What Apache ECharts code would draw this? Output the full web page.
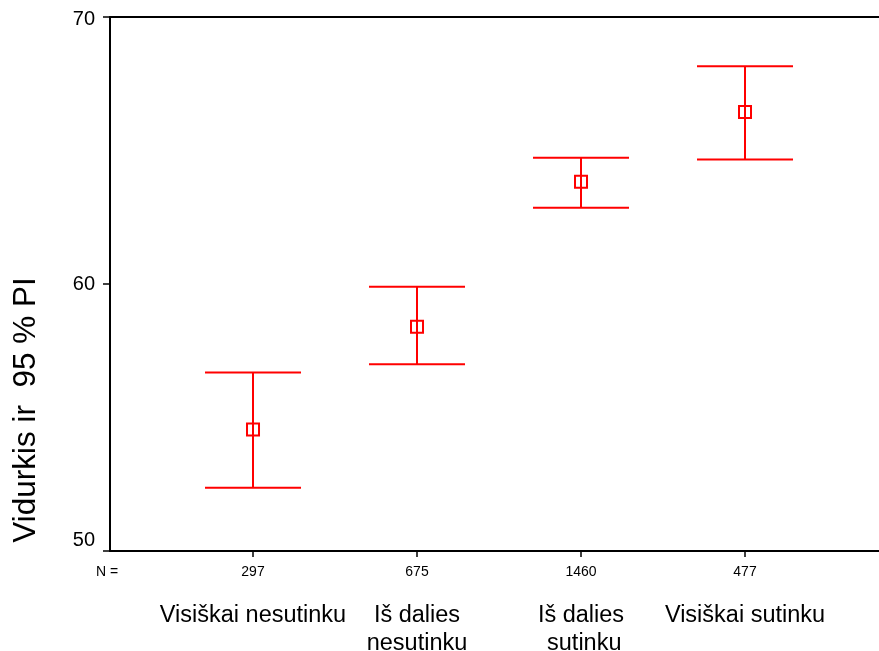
<!DOCTYPE html>
<html>
<head>
<meta charset="utf-8">
<script src="https://cdn.jsdelivr.net/npm/echarts@6/dist/echarts.min.js"></script>
<style>html,body{margin:0;padding:0;background:#fff}#c{width:879px;height:651px}</style>
</head>
<body>
<div id="c"></div>
<script>
var categories = ['Visiškai nesutinku', 'Iš dalies\nnesutinku', 'Iš dalies\n sutinku', 'Visiškai sutinku'];
var counts = ['297', '675', '1460', '477'];
var means = [54.55, 58.40, 63.83, 66.44];
var lower = [52.37, 56.99, 62.86, 64.66];
var upper = [56.69, 59.90, 64.73, 68.16];
var yTicks = [50, 60, 70];

var positions = [1, 2, 3, 4];
var data = positions.map(function (p, i) { return [p, lower[i], upper[i], means[i]]; });
var FONT = 'Liberation Sans, Arial, sans-serif';

var chart = echarts.init(document.getElementById('c'), null, { renderer: 'canvas' });
chart.setOption({
  animation: false,
  backgroundColor: '#fff',
  grid: { left: 110, right: 0, top: 17, bottom: 100, containLabel: false, outerBoundsMode: 'none' },
  xAxis: [
    {
      type: 'value', min: 0.128, max: 4.817, position: 'bottom',
      splitLine: { show: false },
      axisLine: { show: true, lineStyle: { color: '#000', width: 2 } },
      axisTick: { show: true, customValues: positions, length: 6, lineStyle: { color: '#000', width: 1.5 } },
      axisLabel: {
        show: true, customValues: positions, margin: 14,
        fontFamily: FONT, fontSize: 14, color: '#000',
        formatter: function (v) { return counts[Math.round(v) - 1]; }
      }
    },
    {
      type: 'value', min: 0.128, max: 4.817, position: 'bottom', offset: 0,
      splitLine: { show: false },
      axisLine: { show: false },
      axisTick: { show: false },
      axisLabel: {
        show: true, customValues: positions, margin: 51,
        fontFamily: FONT, fontSize: 23.5, color: '#000', lineHeight: 28,
        formatter: function (v) { return categories[Math.round(v) - 1]; }
      }
    },
    {
      type: 'value', min: 0.128, max: 4.817, position: 'top',
      splitLine: { show: false },
      axisLine: { show: true, lineStyle: { color: '#000', width: 2 } },
      axisTick: { show: false },
      axisLabel: { show: false }
    }
  ],
  yAxis: {
    type: 'value', min: yTicks[0], max: yTicks[yTicks.length - 1], interval: 10,
    splitLine: { show: false },
    axisLine: { show: true, lineStyle: { color: '#000', width: 2 } },
    axisTick: { show: true, length: 7, lineStyle: { color: '#000', width: 1.5 } },
    axisLabel: {
      margin: 15, fontFamily: FONT, fontSize: 20, color: '#000',
      formatter: function (v) {
        if (v === yTicks[0]) return '{lo|' + v + '}';
        if (v === yTicks[yTicks.length - 1]) return '{hi|' + v + '}';
        return '' + v;
      },
      rich: {
        lo: { fontFamily: FONT, fontSize: 20, color: '#000', padding: [0, 0, 22, 0] },
        hi: { fontFamily: FONT, fontSize: 20, color: '#000', padding: [4, 0, 0, 0] }
      }
    }
  },
  graphic: [
    { type: 'text', left: 96, top: 565, style: { text: 'N =', fontFamily: FONT, fontSize: 14, fill: '#000' } },
    { type: 'text', x: 26, y: 410, rotation: Math.PI / 2,
      style: { text: 'Vidurkis ir  95 % PI', fontFamily: FONT, fontSize: 31.5, fill: '#000', align: 'center', verticalAlign: 'middle' } }
  ],
  series: [{
    type: 'custom',
    xAxisIndex: 0,
    data: data,
    renderItem: function (params, api) {
      var x = api.value(0);
      var lo = api.coord([x, api.value(1)]);
      var hi = api.coord([x, api.value(2)]);
      var mid = api.coord([x, api.value(3)]);
      var hw = 48, s = 6;
      var st = { stroke: '#ff0000', lineWidth: 2, fill: null };
      return {
        type: 'group',
        children: [
          { type: 'line', shape: { x1: lo[0], y1: lo[1], x2: hi[0], y2: hi[1] }, style: st },
          { type: 'line', shape: { x1: lo[0] - hw, y1: lo[1], x2: lo[0] + hw, y2: lo[1] }, style: st },
          { type: 'line', shape: { x1: hi[0] - hw, y1: hi[1], x2: hi[0] + hw, y2: hi[1] }, style: st },
          { type: 'rect', shape: { x: mid[0] - s, y: mid[1] - s, width: 2 * s, height: 2 * s }, style: { stroke: '#ff0000', lineWidth: 2, fill: 'rgba(0,0,0,0)' } }
        ]
      };
    }
  }]
});
</script>
</body>
</html>
